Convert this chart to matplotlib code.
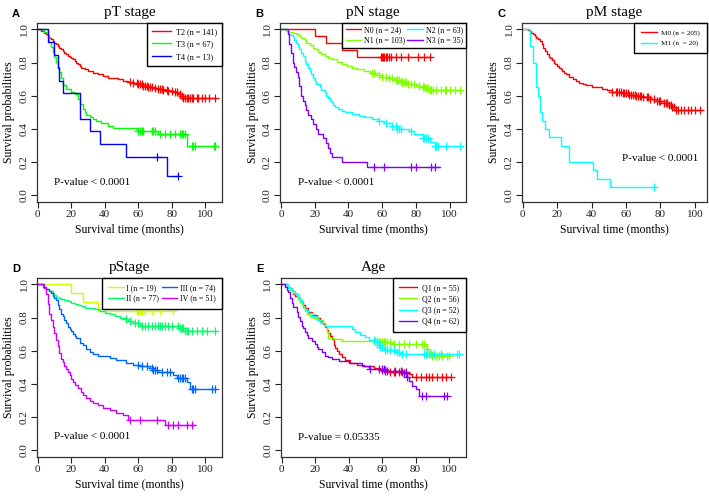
import numpy as np
import matplotlib
matplotlib.use("Agg")
import matplotlib.pyplot as plt

plt.rcParams['font.family'] = ['Liberation Serif', 'DejaVu Serif']

# ---- panel A: pT stage ----
T2_TIME = [2, 4, 5, 6, 7, 8, 9, 10, 11, 12, 13, 14, 15, 16, 17, 18, 19, 20, 21, 22, 23, 24, 25, 26,
           28, 30, 33, 36, 39, 42, 45, 48, 51, 54, 57, 60, 63, 66, 69, 72, 75, 78, 81, 84, 86, 87]
T2_SURV = [0.99, 0.98, 0.97, 0.96, 0.95, 0.94, 0.93, 0.92, 0.91, 0.90, 0.89, 0.88, 0.87, 0.86, 0.85,
           0.84, 0.835, 0.83, 0.82, 0.81, 0.80, 0.79, 0.78, 0.77, 0.76, 0.75, 0.74, 0.73, 0.72, 0.71,
           0.705, 0.70, 0.69, 0.685, 0.68, 0.67, 0.66, 0.655, 0.645, 0.64, 0.635, 0.63, 0.62, 0.61,
           0.60, 0.585]
T2_CENS = [55, 57, 59, 60, 61, 62, 63, 64, 65, 66, 67, 68, 70, 72, 73, 74, 75, 77, 78, 80, 82, 83,
           85, 86, 87, 88, 89, 90, 91, 92, 93, 95, 96, 98, 100, 102, 106]
T2_END = 106

T3_TIME = [4, 6, 7, 8, 9, 10, 11, 12, 13, 14, 15, 17, 20, 22, 24, 25, 27, 28, 29, 31, 33, 35, 38,
           42, 45, 59, 72, 89]
T3_SURV = [0.985, 0.955, 0.925, 0.895, 0.865, 0.835, 0.805, 0.775, 0.745, 0.71, 0.665, 0.64, 0.625,
           0.61, 0.58, 0.55, 0.52, 0.50, 0.485, 0.47, 0.46, 0.45, 0.435, 0.42, 0.405, 0.385, 0.37,
           0.295]
T3_CENS = [60, 61, 62, 63, 68, 69, 70, 73, 76, 79, 82, 85, 86, 87, 88, 92, 93, 94, 105, 106]
T3_END = 106

T4_TIME = [6, 10, 12, 13, 15, 25, 31, 37, 53, 77]
T4_SURV = [0.923, 0.846, 0.769, 0.692, 0.615, 0.462, 0.385, 0.308, 0.231, 0.115]
T4_CENS = [71, 84]
T4_END = 84

# ---- panel B: pN stage ----
N0_TIME = [20, 27, 36, 45]
N0_SURV = [0.958, 0.917, 0.875, 0.833]
N0_CENS = [59, 60, 60.5, 61, 62, 63, 64, 65, 68, 71, 75, 81, 85, 88]
N0_END = 89

N1_TIME = [3, 5, 7, 9, 11, 12, 14, 15, 17, 19, 20, 22, 24, 26, 28, 30, 33, 36, 39, 42, 45, 49, 53,
           56, 59, 63, 67, 71, 75, 80, 84, 86, 88]
N1_SURV = [0.99, 0.985, 0.98, 0.97, 0.96, 0.95, 0.935, 0.92, 0.905, 0.89, 0.88, 0.865, 0.85, 0.84,
           0.83, 0.82, 0.805, 0.79, 0.78, 0.77, 0.76, 0.75, 0.735, 0.725, 0.715, 0.705, 0.695,
           0.685, 0.67, 0.66, 0.655, 0.645, 0.635]
N1_CENS = [54, 55, 58, 60, 62, 64, 66, 68, 69, 70, 71, 72, 73, 74, 75, 77, 79, 82, 84, 85, 86, 87,
           88, 89, 90, 92, 95, 97, 98, 100, 103, 106]
N1_END = 106

N2_TIME = [4, 5, 7, 8, 9, 10, 11, 12, 13, 14, 15, 16, 17, 18, 19, 20, 21, 23, 24, 26, 27, 28, 29,
           30, 31, 32, 34, 36, 38, 42, 46, 50, 54, 58, 61, 66, 69, 76, 79, 84, 88, 91]
N2_SURV = [0.984, 0.968, 0.952, 0.936, 0.92, 0.90, 0.88, 0.86, 0.84, 0.81, 0.79, 0.77, 0.75, 0.73,
           0.71, 0.69, 0.67, 0.65, 0.635, 0.62, 0.60, 0.585, 0.57, 0.56, 0.545, 0.53, 0.52, 0.51,
           0.50, 0.49, 0.48, 0.47, 0.46, 0.45, 0.435, 0.42, 0.40, 0.385, 0.37, 0.345, 0.32, 0.30]
N2_CENS = [58, 62, 66, 68, 69, 70, 71, 77, 84, 85, 86, 87, 91, 92, 93, 98, 106]
N2_END = 106

N3_TIME = [4, 5, 6, 7, 8, 9, 10, 11, 12, 13, 14, 15, 16, 18, 19, 21, 22, 25, 27, 28, 29, 30, 36, 51]
N3_SURV = [0.971, 0.914, 0.857, 0.800, 0.771, 0.743, 0.714, 0.657, 0.600, 0.571, 0.543, 0.514,
           0.486, 0.457, 0.429, 0.400, 0.371, 0.343, 0.314, 0.286, 0.257, 0.229, 0.20, 0.171]
N3_CENS = [55, 61, 77, 80, 89, 91]
N3_END = 94

# ---- panel C: pM stage ----
M0_TIME = [3, 4, 5, 6, 7, 8, 9, 10, 11, 12, 13, 14, 15, 16, 17, 18, 19, 20, 21, 22, 23, 24, 25, 27,
           29, 31, 33, 35, 37, 40, 43, 46, 49, 52, 55, 58, 62, 66, 70, 74, 78, 82, 85, 87, 89]
M0_SURV = [0.995, 0.99, 0.98, 0.97, 0.96, 0.95, 0.94, 0.93, 0.91, 0.89, 0.87, 0.85, 0.835, 0.825,
           0.815, 0.80, 0.79, 0.78, 0.77, 0.76, 0.75, 0.74, 0.73, 0.715, 0.70, 0.69, 0.68, 0.67,
           0.665, 0.655, 0.65, 0.64, 0.635, 0.625, 0.62, 0.615, 0.605, 0.60, 0.59, 0.58, 0.57,
           0.555, 0.545, 0.53, 0.515]
M0_CENS = [52, 54, 55, 56, 57, 58, 59, 60, 61, 62, 63, 64, 65, 66, 67, 68, 69, 70, 72, 73, 74, 76,
           78, 79, 80, 82, 83, 84, 85, 86, 87, 88, 89, 90, 92, 94, 96, 98, 100, 103]
M0_END = 104

M1_TIME = [4, 6, 8, 9, 10, 11, 13, 15, 22, 27, 41, 43, 51]
M1_SURV = [0.90, 0.80, 0.65, 0.60, 0.50, 0.45, 0.40, 0.35, 0.30, 0.20, 0.15, 0.10, 0.05]
M1_CENS = [76]
M1_END = 76

# ---- panel D: pStage ----
S1_TIME = [20, 27, 36]
S1_SURV = [0.947, 0.895, 0.842]
S1_CENS = [59, 60, 61, 61.5, 62, 64, 68, 73, 81]
S1_END = 82

S2_TIME = [3, 5, 7, 9, 10, 11, 12, 14, 16, 18, 20, 22, 24, 26, 28, 31, 34, 37, 40, 43, 46, 49, 52,
           54, 57, 61, 85, 88]
S2_SURV = [0.987, 0.974, 0.961, 0.948, 0.935, 0.922, 0.915, 0.91, 0.905, 0.90, 0.89, 0.88, 0.875,
           0.87, 0.86, 0.855, 0.85, 0.84, 0.83, 0.82, 0.81, 0.80, 0.79, 0.78, 0.765, 0.75, 0.735,
           0.72]
S2_CENS = [53, 55, 58, 60, 62, 64, 66, 68, 70, 72, 73, 74, 76, 78, 80, 84, 85, 86, 87, 88, 89, 90,
           92, 95, 98, 101, 106]
S2_END = 106

S3_TIME = [3, 5, 7, 8, 9, 10, 11, 12, 13, 14, 15, 16, 17, 18, 19, 20, 21, 22, 23, 25, 27, 29, 31,
           33, 36, 43, 47, 53, 57, 61, 67, 69, 72, 81, 83, 89, 91]
S3_SURV = [0.986, 0.973, 0.959, 0.946, 0.932, 0.919, 0.905, 0.878, 0.851, 0.824, 0.811, 0.784,
           0.770, 0.743, 0.730, 0.716, 0.703, 0.689, 0.676, 0.649, 0.635, 0.608, 0.595, 0.581,
           0.568, 0.554, 0.541, 0.527, 0.516, 0.505, 0.495, 0.485, 0.47, 0.455, 0.435, 0.41, 0.37]
S3_CENS = [60, 62, 65, 68, 69, 70, 71, 74, 77, 79, 84, 85, 86, 87, 88, 92, 93, 94, 104, 106]
S3_END = 106

S4_TIME = [4, 5, 6, 7, 8, 9, 10, 11, 12, 13, 14, 15, 16, 17, 18, 19, 20, 21, 22, 24, 26, 27, 29,
           31, 33, 36, 39, 43, 47, 51, 54, 76]
S4_SURV = [0.98, 0.941, 0.882, 0.824, 0.784, 0.745, 0.706, 0.667, 0.627, 0.588, 0.549, 0.529,
           0.510, 0.490, 0.471, 0.451, 0.431, 0.412, 0.392, 0.373, 0.353, 0.333, 0.314, 0.294,
           0.284, 0.27, 0.255, 0.245, 0.225, 0.21, 0.18, 0.15]
S4_CENS = [55, 61, 71, 78, 81, 84, 89, 92]
S4_END = 94

# ---- panel E: Age ----
Q1_TIME = [3, 5, 7, 8, 10, 11, 13, 14, 16, 18, 21, 23, 25, 26, 27, 28, 29, 30, 31, 32, 33, 34, 36,
           38, 41, 45, 49, 55, 59, 63, 76, 78]
Q1_SURV = [0.982, 0.964, 0.945, 0.927, 0.909, 0.891, 0.873, 0.855, 0.836, 0.818, 0.80, 0.782,
           0.764, 0.745, 0.727, 0.709, 0.691, 0.673, 0.636, 0.618, 0.60, 0.582, 0.564, 0.545,
           0.527, 0.516, 0.505, 0.495, 0.484, 0.473, 0.458, 0.443]
Q1_CENS = [60, 62, 65, 67, 68, 70, 72, 74, 80, 83, 86, 88, 90, 93, 96, 98, 101]
Q1_END = 101

Q2_TIME = [3, 5, 7, 9, 10, 11, 12, 13, 14, 15, 17, 19, 22, 25, 26, 27, 28, 31, 36, 58, 66, 86, 87,
           88, 90]
Q2_SURV = [0.982, 0.964, 0.946, 0.929, 0.911, 0.893, 0.875, 0.857, 0.839, 0.821, 0.804, 0.795,
           0.786, 0.768, 0.75, 0.714, 0.679, 0.669, 0.66, 0.65, 0.64, 0.628, 0.61, 0.59, 0.57]
Q2_CENS = [56, 57, 58, 59, 60, 61, 62, 63, 65, 67, 70, 73, 76, 80, 84, 85, 87, 90, 92, 94, 96, 99,
           100]
Q2_END = 100

Q3_TIME = [4, 6, 8, 10, 11, 12, 13, 14, 16, 18, 21, 23, 26, 42, 44, 47, 50, 52, 56, 58, 59, 61,
           68, 71]
Q3_SURV = [0.981, 0.962, 0.942, 0.923, 0.904, 0.885, 0.865, 0.846, 0.827, 0.808, 0.788, 0.769,
           0.75, 0.73, 0.71, 0.695, 0.68, 0.665, 0.65, 0.635, 0.62, 0.605, 0.59, 0.58]
Q3_CENS = [55, 57, 58, 59, 60, 62, 63, 65, 67, 69, 70, 72, 74, 85, 86, 87, 88, 89, 91, 95, 105, 106]
Q3_END = 106

Q4_TIME = [2, 3, 4, 5, 6, 7, 9, 10, 11, 12, 13, 14, 15, 16, 18, 20, 21, 22, 24, 26, 28, 30, 34,
           40, 48, 52, 62, 72, 75, 76, 78, 80, 82]
Q4_SURV = [0.984, 0.968, 0.952, 0.919, 0.887, 0.863, 0.831, 0.806, 0.782, 0.75, 0.734, 0.71,
           0.694, 0.677, 0.66, 0.64, 0.625, 0.61, 0.59, 0.57, 0.56, 0.55, 0.535, 0.525, 0.51,
           0.49, 0.48, 0.465, 0.44, 0.42, 0.39, 0.37, 0.325]
Q4_CENS = [53, 58, 60, 61, 62, 63, 68, 71, 73, 74, 75, 84, 86, 97, 99]
Q4_END = 99

RAINBOW3 = ['#FF0000', '#00FF00', '#0000FF']
RAINBOW4 = ['#FF0000', '#80FF00', '#00FFFF', '#8000FF']
RAINBOW2 = ['#FF0000', '#00FFFF']
RAINBOW5 = ['#CCFF00', '#00FF66', '#0066FF', '#CC00FF']

panels = [
    dict(letter='A', title='pT stage', pos=[0.052, 0.593, 0.261, 0.361],
         curves=[(T2_TIME, T2_SURV, T2_CENS, T2_END, 'T2 (n = 141)'),
                 (T3_TIME, T3_SURV, T3_CENS, T3_END, 'T3 (n = 67)'),
                 (T4_TIME, T4_SURV, T4_CENS, T4_END, 'T4 (n = 13)')],
         colors=RAINBOW3, ncol=1, ptext='P-value < 0.0001', pxy=(9.5, 0.075), xmax=110,
         legfs=5.9, legpad=0.6, legsp=0.55),
    dict(letter='B', title='pN stage', pos=[0.395, 0.593, 0.262, 0.361],
         curves=[(N0_TIME, N0_SURV, N0_CENS, N0_END, 'N0 (n = 24)'),
                 (N1_TIME, N1_SURV, N1_CENS, N1_END, 'N1 (n = 103)'),
                 (N2_TIME, N2_SURV, N2_CENS, N2_END, 'N2 (n = 63)'),
                 (N3_TIME, N3_SURV, N3_CENS, N3_END, 'N3 (n = 35)')],
         colors=RAINBOW4, ncol=2, ptext='P-value < 0.0001', pxy=(10, 0.075), xmax=109.5,
         legfs=5.7, legpad=0.4, legsp=0.3),
    dict(letter='C', title='pM stage', pos=[0.736, 0.593, 0.261, 0.361],
         curves=[(M0_TIME, M0_SURV, M0_CENS, M0_END, 'M0 (n = 205)'),
                 (M1_TIME, M1_SURV, M1_CENS, M1_END, 'M1 (n  = 20)')],
         colors=RAINBOW2, ncol=1, ptext='P-value < 0.0001', pxy=(57.5, 0.22), xmax=107,
         legfs=5.2, legpad=0.9, legsp=0.6),
    dict(letter='D', title='pStage', pos=[0.052, 0.079, 0.261, 0.361],
         curves=[(S1_TIME, S1_SURV, S1_CENS, S1_END, 'I (n = 19)'),
                 (S2_TIME, S2_SURV, S2_CENS, S2_END, 'II (n = 77)'),
                 (S3_TIME, S3_SURV, S3_CENS, S3_END, 'III (n = 74)'),
                 (S4_TIME, S4_SURV, S4_CENS, S4_END, 'IV (n = 51)')],
         colors=RAINBOW5, ncol=2, ptext='P-value < 0.0001', pxy=(9.5, 0.085), xmax=110,
         legfs=5.7, legpad=0.8, legsp=0.3),
    dict(letter='E', title='Age', pos=[0.396, 0.079, 0.261, 0.361],
         curves=[(Q1_TIME, Q1_SURV, Q1_CENS, Q1_END, 'Q1 (n = 55)'),
                 (Q2_TIME, Q2_SURV, Q2_CENS, Q2_END, 'Q2 (n = 56)'),
                 (Q3_TIME, Q3_SURV, Q3_CENS, Q3_END, 'Q3 (n = 52)'),
                 (Q4_TIME, Q4_SURV, Q4_CENS, Q4_END, 'Q4 (n = 62)')],
         colors=RAINBOW4, ncol=1, ptext='P-value = 0.05335', pxy=(10, 0.075), xmax=110,
         legfs=5.7, legpad=0.8, legsp=0.4),
]

fig = plt.figure(figsize=(7.09, 4.96), dpi=100)

for p in panels:
    ax = fig.add_axes(p['pos'])
    handles = []
    for (t, s, cens, end, label), col in zip(p['curves'], p['colors']):
        x = np.array([0] + list(t) + [end], dtype=float)
        y = np.array([1.0] + list(s) + [s[-1]])
        h, = ax.step(x, y, where='post', color=col, lw=1.0, label=label)
        handles.append(h)
        # survival level at each censoring time
        idx = np.searchsorted(x, np.array(cens, dtype=float), side='right') - 1
        ax.plot(cens, y[idx], ls='none', marker='+', color=col, ms=6, mew=0.9)
    ax.set_xlim(-0.5, p['xmax'])
    ax.set_ylim(-0.04, 1.04)
    ax.set_xticks([0, 20, 40, 60, 80, 100])
    ax.set_yticks([0.0, 0.2, 0.4, 0.6, 0.8, 1.0])
    ax.set_yticklabels(['0.0', '0.2', '0.4', '0.6', '0.8', '1.0'], rotation=90, va='center')
    ax.tick_params(direction='out', length=4, width=0.8, labelsize=8, pad=2, colors='#222222')
    for sp in ax.spines.values():
        sp.set_linewidth(0.9)
        sp.set_color('#333333')
    ax.set_xlabel('Survival time (months)', fontsize=8.5, labelpad=3)
    ax.set_ylabel('Survival probabilities', fontsize=8.5, labelpad=3)
    ax.set_title(p['title'], fontsize=11, pad=5)
    ax.text(p['pxy'][0], p['pxy'][1], p['ptext'], fontsize=8, ha='left', va='center')
    if p['ncol'] == 2:
        leg = ax.legend(handles=handles, loc='upper right', ncol=2, fontsize=p['legfs'],
                        borderaxespad=0, fancybox=False, framealpha=1, edgecolor='black',
                        handlelength=2.0, handletextpad=0.3, columnspacing=0.3,
                        borderpad=p['legpad'], labelspacing=p['legsp'])
    else:
        leg = ax.legend(handles=handles, loc='upper right', fontsize=p['legfs'],
                        borderaxespad=0, fancybox=False, framealpha=1, edgecolor='black',
                        handlelength=2.3, handletextpad=0.6, borderpad=p['legpad'],
                        labelspacing=p['legsp'])
    leg.get_frame().set_linewidth(1.0)
    bb = p['pos']
    fig.text(bb[0] - 0.035, bb[1] + bb[3] + 0.018, p['letter'], fontsize=8,
             fontweight='bold', family=['Liberation Sans', 'DejaVu Sans'],
             ha='left', va='center')

fig.savefig('out.png', dpi=100)
